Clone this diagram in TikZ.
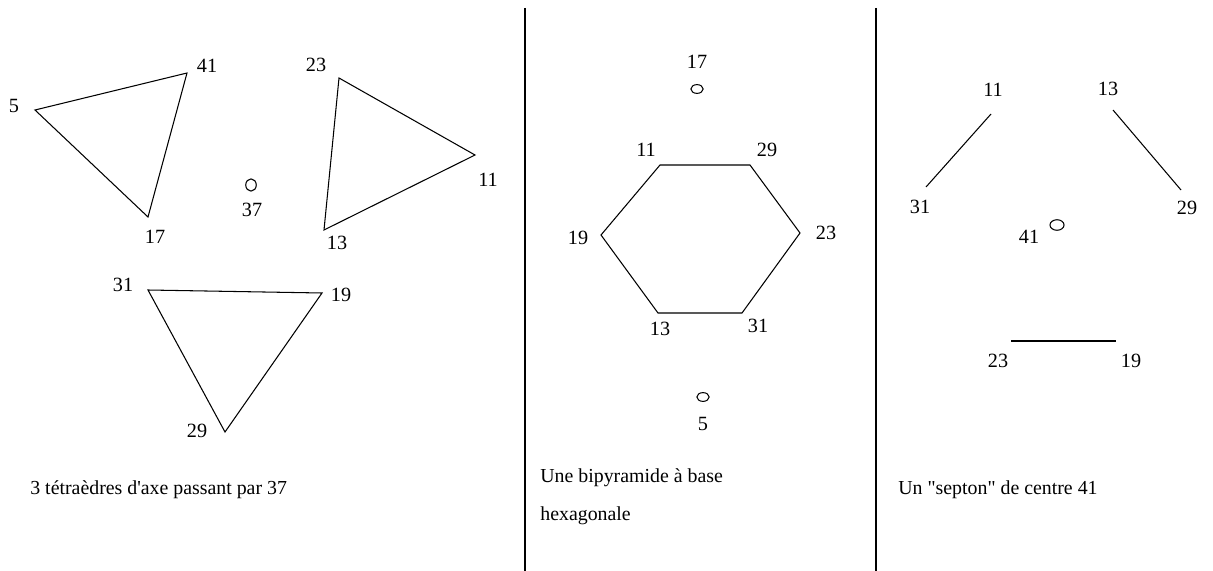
\documentclass[tikz,border=0pt]{standalone}
\usepackage{fontspec}
\setmainfont{Liberation Serif}
\usetikzlibrary{positioning,shapes.geometric}

\tikzset{
  num/.style={font=\fontsize{11.5}{13}\selectfont,inner sep=0pt},
  caption/.style={font=\fontsize{11.3}{21.5}\selectfont,anchor=west,align=left,inner sep=0pt},
  edge/.style={draw=black,line width=0.6pt},
  axe/.style={draw=black,ellipse,line width=0.6pt,inner sep=0pt,minimum width=8pt,minimum height=5.5pt},
}

\begin{document}
\begin{tikzpicture}[x=0.02cm,y=-0.02cm]
    \useasboundingbox (0,0) rectangle (1213,571);

    % separateurs
    \draw[line width=0.6pt] (525,8) -- (525,571);
    \draw[line width=0.6pt] (876,8) -- (876,571);

    % --- 3 tetraedres ---
    \coordinate (a5) at (35,110);
    \coordinate (a41) at (187,73);
    \coordinate (a17) at (148,217);
    \node[num] (l5) at (14,106) {5};
    \node[num] (l41) at (207,66) {41};
    \node[num] (l17) at (155,237) {17};
    \draw[edge] (a5) -- (a41) -- (a17) -- cycle;

    \coordinate (b23) at (339,78);
    \coordinate (b11) at (475,155);
    \coordinate (b13) at (324,230);
    \node[num] (l23) at (316,65) {23};
    \node[num] (l11) at (488,180) {11};
    \node[num] (l13) at (337,243) {13};
    \draw[edge] (b23) -- (b11) -- (b13) -- cycle;

    \node[axe,minimum width=6pt,minimum height=7pt] (o37) at (251,185) {};
    \node[num] (l37) at (252,210) {37};

    \coordinate (c31) at (148,290);
    \coordinate (c19) at (322,293);
    \coordinate (c29) at (225,432);
    \node[num] (l31) at (123,285) {31};
    \node[num] (l19) at (341,295) {19};
    \node[num] (l29) at (197,431) {29};
    \draw[edge] (c31) -- (c19) -- (c29) -- cycle;

    \node[caption] (cap1) at (30,490) {3 tétraèdres d\textquotesingle axe passant par 37};

    % --- bipyramide ---
    \node[num] (h17) at (697,62) {17};
    \node[axe,minimum width=7pt,minimum height=5pt] (o17) at (697,89) {};

    \coordinate (v11) at (660,165);
    \coordinate (v29) at (750,165);
    \coordinate (v23) at (800,233);
    \coordinate (v31) at (742,313);
    \coordinate (v13) at (658,313);
    \coordinate (v19) at (601,235);
    \draw[edge] (v11) -- (v29) -- (v23) -- (v31) -- (v13) -- (v19) -- cycle;
    \node[num] (h11) at (646,150) {11};
    \node[num] (h29) at (767,150) {29};
    \node[num] (h23) at (826,233) {23};
    \node[num] (h31) at (758,326) {31};
    \node[num] (h13) at (660,329) {13};
    \node[num] (h19) at (578,238) {19};

    \node[axe,minimum width=7pt,minimum height=5pt] (o5) at (703,397) {};
    \node[num] (h5) at (703,424) {5};

    \node[caption] (cap2) at (540,497) {Une bipyramide à base\\hexagonale};

    % --- septon ---
    \node[num] (s11) at (993,90) {11};
    \node[num] (s13) at (1108,89) {13};
    \node[num] (s31) at (920,207) {31};
    \node[num] (s29) at (1187,208) {29};
    \node[num] (s41) at (1029,237) {41};
    \node[axe,minimum width=8pt,minimum height=6pt] (o41) at (1057,225) {};
    \node[num] (s23) at (998,361) {23};
    \node[num] (s19) at (1131,361) {19};

    \coordinate (p11) at (991,114);
    \coordinate (p31) at (926,187);
    \coordinate (p13) at (1113,110);
    \coordinate (p29) at (1181,190);
    \coordinate (p23) at (1011,341);
    \coordinate (p19) at (1116,341);
    \draw[edge] (p11) -- (p31);
    \draw[edge] (p13) -- (p29);
    \draw[edge] (p23) -- (p19);

    \node[caption] (cap3) at (898,490) {Un \textquotedbl septon\textquotedbl\ de centre 41};
\end{tikzpicture}
\end{document}
